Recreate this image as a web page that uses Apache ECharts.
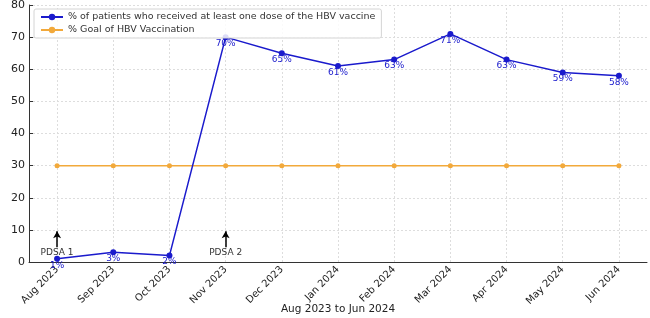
<!DOCTYPE html>
<html>
<head>
<meta charset="utf-8">
<script src="https://cdn.jsdelivr.net/npm/echarts@6/dist/echarts.min.js"></script>
<style>
  html, body { margin: 0; padding: 0; background: #fff; }
  #chart { width: 650px; height: 318px; }
</style>
</head>
<body>
<div id="chart"></div>
<script>
// data
const months = ['Aug 2023', 'Sep 2023', 'Oct 2023', 'Nov 2023', 'Dec 2023', 'Jan 2024',
                'Feb 2024', 'Mar 2024', 'Apr 2024', 'May 2024', 'Jun 2024'];
const received = [1, 3, 2, 70, 65, 61, 63, 71, 63, 59, 58];
const goal = [30, 30, 30, 30, 30, 30, 30, 30, 30, 30, 30];
const pdsa = [
    { month: 'Aug 2023', name: 'PDSA 1' },
    { month: 'Nov 2023', name: 'PDSA 2' }
];
const yTicks = { min: 0, max: 80, interval: 10 };

const blue = '#1a1acc';
const orange = '#f2a93b';
const font = 'DejaVu Sans';

const chart = echarts.init(document.getElementById('chart'));

// arrows + labels for the PDSA cycles
const arrowLines = pdsa.map(p => [
    { coord: [p.month, 4.6], symbol: 'none' },
    { coord: [p.month, 9.6], symbol: 'arrow', symbolSize: [6, 7] }
]);
const arrowText = pdsa.map(p => ({
    coord: [p.month, 2.8],
    value: p.name
}));
// vertical dotted grid lines pass through the month ticks
const monthGrid = months.map(m => ({ xAxis: m }));

const option = {
    animation: false,
    textStyle: { fontFamily: font },
    grid: { left: 29, right: 3, top: 5, bottom: 56, outerBoundsMode: 'none' },
    legend: {
        left: 34, top: 9,
        orient: 'vertical',
        itemGap: 3,
        itemWidth: 22, itemHeight: 8,
        padding: [3, 6, 3, 6],
        borderColor: '#d4d4d4', borderWidth: 1, borderRadius: 2,
        backgroundColor: 'rgba(255,255,255,0.85)',
        textStyle: { fontSize: 9.5, color: '#333', fontFamily: font },
        data: ['% of patients who received at least one dose of the HBV vaccine',
               '% Goal of HBV Vaccination']
    },
    xAxis: {
        type: 'category',
        data: months,
        boundaryGap: true,
        name: 'Aug 2023 to Jun 2024',
        nameLocation: 'middle',
        nameGap: 42,
        nameMoveOverlap: false,
        nameTextStyle: { fontSize: 10.5, color: '#222' },
        axisLine: { lineStyle: { color: '#333', width: 1 } },
        axisTick: { alignWithLabel: true, inside: true, length: 4, lineStyle: { color: '#333' } },
        axisLabel: { rotate: 45, fontSize: 10, color: '#222', margin: 6, interval: 0 },
        splitLine: { show: false }
    },
    yAxis: {
        type: 'value',
        min: yTicks.min, max: yTicks.max, interval: yTicks.interval,
        name: '% HBV Vaccination',
        nameLocation: 'middle',
        nameGap: 19,
        nameTextStyle: { fontSize: 10.5, color: '#222' },
        axisLine: { show: true, lineStyle: { color: '#333', width: 1 } },
        axisTick: { show: true, inside: true, length: 4, lineStyle: { color: '#333' } },
        axisLabel: { fontSize: 11, color: '#222', margin: 4 },
        splitLine: { lineStyle: { color: '#ddd', type: [2, 2] } }
    },
    series: [
        {
            name: '% of patients who received at least one dose of the HBV vaccine',
            type: 'line',
            data: received,
            color: blue,
            symbol: 'circle',
            symbolSize: 6,
            lineStyle: { width: 1.5 },
            z: 3,
            label: {
                show: true,
                position: 'bottom',
                distance: -1,
                formatter: p => p.value + '%',
                fontSize: 9,
                color: blue
            },
            markLine: {
                silent: true,
                label: { show: false },
                lineStyle: { color: '#000', width: 1.5, type: 'solid' },
                data: arrowLines
            },
            markPoint: {
                silent: true,
                symbol: 'circle',
                symbolSize: 0,
                label: {
                    show: true,
                    formatter: p => p.data.value,
                    fontSize: 9,
                    color: '#333'
                },
                data: arrowText
            }
        },
        {
            name: '% Goal of HBV Vaccination',
            type: 'line',
            data: goal,
            color: orange,
            symbol: 'circle',
            symbolSize: 5,
            lineStyle: { width: 1.5 },
            z: 2,
            markLine: {
                silent: true,
                symbol: 'none',
                label: { show: false },
                lineStyle: { color: '#ddd', width: 1, type: [2, 2] },
                z: 0,
                data: monthGrid
            }
        }
    ]
};

chart.setOption(option);
</script>
</body>
</html>
